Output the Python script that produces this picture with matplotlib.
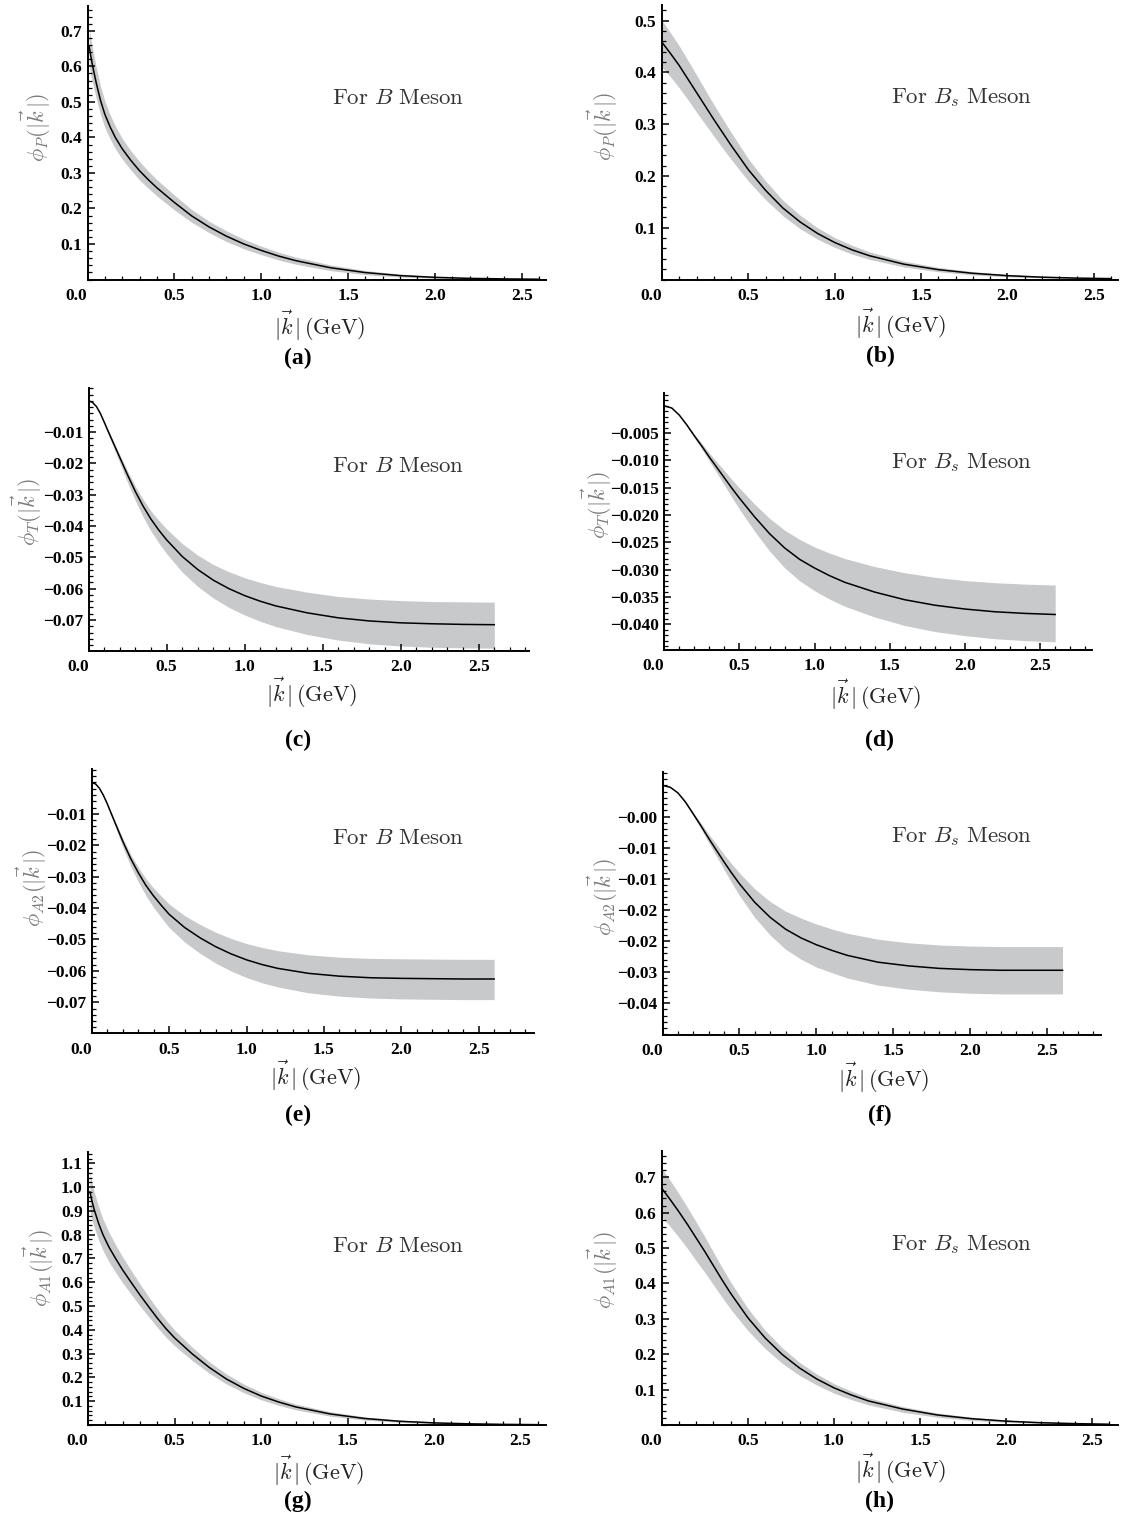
import matplotlib
matplotlib.use("Agg")
import matplotlib.pyplot as plt
from matplotlib.ticker import MultipleLocator

plt.rcParams['mathtext.fontset'] = 'cm'
plt.rcParams['axes.unicode_minus'] = True

# ---- data: |k| (GeV), central curve, band upper / lower ----
# (a) phi_P, B meson
k_a = [0.01, 0.02, 0.03, 0.05, 0.075, 0.1, 0.13, 0.16, 0.2, 0.25, 0.3, 0.35, 0.4, 0.5, 0.6, 0.7,
       0.8, 0.9, 1.0, 1.1, 1.2, 1.4, 1.6, 1.8, 2.0, 2.2, 2.4, 2.6]
a_mid = [0.655, 0.626, 0.600, 0.554, 0.504, 0.465, 0.430, 0.400, 0.368, 0.335, 0.306, 0.281, 0.258,
         0.217, 0.179, 0.148, 0.122, 0.100, 0.082, 0.066, 0.053, 0.033, 0.0195, 0.011, 0.0061,
         0.0032, 0.0017, 0.0008]
a_hi = [0.707, 0.676, 0.648, 0.598, 0.544, 0.502, 0.464, 0.432, 0.397, 0.362, 0.332, 0.305, 0.281,
        0.238, 0.197, 0.164, 0.137, 0.1135, 0.094, 0.077, 0.063, 0.041, 0.0254, 0.0151, 0.0088,
        0.0048, 0.0026, 0.0013]
a_lo = [0.603, 0.576, 0.552, 0.510, 0.464, 0.428, 0.396, 0.368, 0.339, 0.308, 0.280, 0.257, 0.235,
        0.196, 0.161, 0.132, 0.107, 0.0865, 0.070, 0.055, 0.043, 0.025, 0.0137, 0.0069, 0.0034,
        0.0016, 0.0008, 0.0003]

# (b) phi_P, Bs meson
k_b = [0, 0.05, 0.1, 0.15, 0.2, 0.25, 0.3, 0.35, 0.4, 0.5, 0.6, 0.7, 0.8, 0.9, 1.0, 1.1, 1.2, 1.4,
       1.6, 1.8, 2.0, 2.2, 2.4, 2.6]
b_mid = [0.458, 0.436, 0.413, 0.387, 0.361, 0.335, 0.309, 0.284, 0.259, 0.212, 0.172, 0.138, 0.111,
         0.089, 0.0714, 0.0573, 0.046, 0.0296, 0.019, 0.012, 0.0074, 0.0045, 0.0027, 0.0017]
b_hi = [0.500, 0.476, 0.451, 0.423, 0.395, 0.366, 0.338, 0.311, 0.284, 0.233, 0.190, 0.153, 0.124,
        0.100, 0.081, 0.066, 0.0535, 0.0355, 0.0235, 0.0153, 0.0098, 0.0062, 0.0039, 0.0025]
b_lo = [0.410, 0.391, 0.370, 0.347, 0.323, 0.300, 0.277, 0.254, 0.232, 0.190, 0.154, 0.123, 0.098,
        0.078, 0.062, 0.049, 0.039, 0.0242, 0.015, 0.0089, 0.0052, 0.003, 0.0017, 0.001]

# |k| grids for the negative distributions
k_b_neg = [0, 0.025, 0.05, 0.075, 0.1, 0.125, 0.15, 0.2, 0.25, 0.3, 0.35, 0.4, 0.45, 0.5, 0.6, 0.7,
           0.8, 0.9, 1.0, 1.1, 1.2, 1.4, 1.6, 1.8, 2.0, 2.2, 2.4, 2.6]
k_bs_neg = [0, 0.05, 0.1, 0.15, 0.2, 0.25, 0.3, 0.35, 0.4, 0.45, 0.5, 0.6, 0.7, 0.8, 0.9, 1.0, 1.1,
            1.2, 1.4, 1.6, 1.8, 2.0, 2.2, 2.4, 2.6]

# (c) phi_T, B meson
c_mid = [0, -0.0005, -0.0018, -0.0040, -0.0068, -0.0097, -0.0125, -0.0181, -0.0237, -0.0290,
         -0.0337, -0.0378, -0.0413, -0.0444, -0.0497, -0.0539, -0.0573, -0.0600, -0.0622, -0.0640,
         -0.0655, -0.0677, -0.0693, -0.0703, -0.0709, -0.0712, -0.0714, -0.0715]
c_hi = [0, -0.00048, -0.00173, -0.00384, -0.00653, -0.00931, -0.01194, -0.0172, -0.0224, -0.0273,
        -0.0315, -0.0352, -0.0382, -0.0409, -0.0456, -0.0493, -0.0523, -0.0546, -0.0565, -0.0580,
        -0.0593, -0.0611, -0.0625, -0.0633, -0.0638, -0.0641, -0.0642, -0.0643]
c_lo = [0, -0.000525, -0.00191, -0.00428, -0.00734, -0.01052, -0.01363, -0.0198, -0.0261, -0.0319,
        -0.0371, -0.0416, -0.0454, -0.0488, -0.0547, -0.0593, -0.0630, -0.0660, -0.0684, -0.0704,
        -0.0721, -0.0746, -0.0764, -0.0776, -0.0783, -0.0787, -0.0789, -0.0790]

# (d) phi_T, Bs meson
d_mid = [0, -0.0004, -0.0017, -0.0035, -0.0055, -0.0074, -0.0094, -0.0113, -0.0132, -0.0151,
         -0.0169, -0.0203, -0.0234, -0.0260, -0.0281, -0.0297, -0.0311, -0.0323, -0.0341, -0.0355,
         -0.0365, -0.0372, -0.0377, -0.0380, -0.0382]
d_hi = [0, -0.00039, -0.00163, -0.00333, -0.00517, -0.00688, -0.00865, -0.01028, -0.01188,
        -0.01351, -0.01504, -0.01797, -0.02059, -0.02275, -0.02445, -0.02584, -0.02696, -0.02794,
        -0.02943, -0.03056, -0.03139, -0.03199, -0.03238, -0.03264, -0.03281]
d_lo = [0, -0.00041, -0.00177, -0.00368, -0.00583, -0.00792, -0.01015, -0.01232, -0.01452,
        -0.01676, -0.01893, -0.02294, -0.02656, -0.02964, -0.03203, -0.03386, -0.03539, -0.03669,
        -0.03867, -0.04022, -0.04132, -0.04207, -0.04264, -0.04298, -0.04320]

# (e) phi_A2, B meson
e_mid = [0, -0.0005, -0.0019, -0.0041, -0.0068, -0.0098, -0.0128, -0.0187, -0.0241, -0.0287,
         -0.0328, -0.0362, -0.0392, -0.0420, -0.0462, -0.0495, -0.0523, -0.0546, -0.0565, -0.0580,
         -0.0592, -0.0608, -0.0617, -0.0622, -0.0624, -0.0625, -0.0626, -0.0626]
e_hi = [0, -0.00048, -0.00182, -0.00394, -0.00653, -0.00941, -0.01222, -0.01777, -0.02277,
        -0.02698, -0.03067, -0.03367, -0.03626, -0.03872, -0.04241, -0.04524, -0.04770, -0.04969,
        -0.05130, -0.05255, -0.05358, -0.05490, -0.05565, -0.05604, -0.05616, -0.05625, -0.05634,
        -0.05634]
e_lo = [0, -0.000525, -0.00201, -0.00439, -0.00734, -0.01063, -0.01395, -0.02048, -0.02651,
        -0.03157, -0.03608, -0.03982, -0.04312, -0.04620, -0.05082, -0.05445, -0.05753, -0.06006,
        -0.06215, -0.06380, -0.06512, -0.06700, -0.06806, -0.06867, -0.06895, -0.06906, -0.06917,
        -0.06917]

# (f) phi_A2, Bs meson
f_mid = [0, -0.0003, -0.0012, -0.0027, -0.0046, -0.0065, -0.0085, -0.0104, -0.0123, -0.0141,
         -0.0158, -0.0188, -0.0212, -0.0231, -0.0245, -0.0256, -0.0265, -0.0273, -0.0284, -0.0290,
         -0.0294, -0.0296, -0.0297, -0.0297, -0.0297]
f_hi = [0, -0.00029, -0.00115, -0.00257, -0.00432, -0.00605, -0.00782, -0.00946, -0.01107,
        -0.01262, -0.01406, -0.01664, -0.01866, -0.02021, -0.02132, -0.02227, -0.02306, -0.02375,
        -0.02471, -0.02529, -0.02564, -0.02581, -0.02590, -0.02590, -0.02590]
f_lo = [0, -0.00031, -0.00125, -0.00284, -0.00488, -0.00696, -0.00918, -0.01134, -0.01353,
        -0.01565, -0.01770, -0.02124, -0.02406, -0.02633, -0.02793, -0.02918, -0.03008, -0.03093,
        -0.03209, -0.03274, -0.03316, -0.03339, -0.03350, -0.03350, -0.03350]

# (g) phi_A1, B meson
k_g = [0.01, 0.02, 0.035, 0.06, 0.085, 0.12, 0.16, 0.2, 0.25, 0.3, 0.35, 0.4, 0.45, 0.5, 0.6, 0.7,
       0.8, 0.9, 1.0, 1.1, 1.2, 1.4, 1.6, 1.8, 2.0, 2.2, 2.4, 2.6]
g_mid = [0.980, 0.947, 0.905, 0.848, 0.801, 0.748, 0.698, 0.651, 0.598, 0.546, 0.497, 0.449, 0.405,
         0.366, 0.300, 0.242, 0.193, 0.154, 0.122, 0.097, 0.076, 0.0464, 0.0273, 0.0158, 0.0089,
         0.0050, 0.0027, 0.0015]
g_hi = [1.062, 1.026, 0.980, 0.918, 0.867, 0.810, 0.756, 0.705, 0.648, 0.592, 0.539, 0.488, 0.441,
        0.399, 0.328, 0.266, 0.214, 0.172, 0.138, 0.111, 0.088, 0.056, 0.034, 0.0205, 0.0122,
        0.0072, 0.0040, 0.0023]
g_lo = [0.900, 0.869, 0.830, 0.778, 0.735, 0.686, 0.640, 0.597, 0.548, 0.500, 0.455, 0.410, 0.369,
        0.333, 0.272, 0.218, 0.172, 0.136, 0.106, 0.083, 0.064, 0.037, 0.0205, 0.011, 0.0056,
        0.0028, 0.0014, 0.0007]

# (h) phi_A1, Bs meson
k_h = [0, 0.05, 0.1, 0.15, 0.2, 0.25, 0.3, 0.35, 0.4, 0.5, 0.6, 0.7, 0.8, 0.9, 1.0, 1.1, 1.2, 1.4,
       1.6, 1.8, 2.0, 2.2, 2.4, 2.6]
h_mid = [0.669, 0.636, 0.602, 0.566, 0.528, 0.490, 0.450, 0.410, 0.372, 0.303, 0.246, 0.199, 0.161,
         0.130, 0.105, 0.085, 0.068, 0.045, 0.0284, 0.0178, 0.0109, 0.0065, 0.0039, 0.0022]
h_hi = [0.725, 0.690, 0.653, 0.614, 0.573, 0.532, 0.488, 0.445, 0.404, 0.329, 0.268, 0.218, 0.177,
        0.144, 0.117, 0.096, 0.077, 0.052, 0.034, 0.022, 0.0141, 0.0088, 0.0055, 0.0033]
h_lo = [0.588, 0.560, 0.530, 0.498, 0.464, 0.431, 0.396, 0.361, 0.327, 0.267, 0.216, 0.174, 0.140,
        0.113, 0.090, 0.072, 0.057, 0.036, 0.022, 0.013, 0.0076, 0.0043, 0.0024, 0.0013]

# y tick positions / labels per panel
ticks_pos = [0.1, 0.2, 0.3, 0.4, 0.5, 0.6, 0.7]
ticks_bs_p = [0.1, 0.2, 0.3, 0.4, 0.5]
ticks_neg = [-0.01, -0.02, -0.03, -0.04, -0.05, -0.06, -0.07]
ticks_d = [-0.005, -0.010, -0.015, -0.020, -0.025, -0.030, -0.035, -0.040]
ticks_f = [-0.005, -0.010, -0.015, -0.020, -0.025, -0.030, -0.035]
labels_f = ["\u22120.00", "\u22120.01", "\u22120.01", "\u22120.02", "\u22120.02", "\u22120.03", "\u22120.04"]
ticks_g = [0.1, 0.2, 0.3, 0.4, 0.5, 0.6, 0.7, 0.8, 0.9, 1.0, 1.1]
x_ticks = [0.0, 0.5, 1.0, 1.5, 2.0, 2.5]

KLBL = r"|\vec{k}\,|"

# layout: pixel box (left, right, bottom, top), xlim, ylim, minor y step, text anchors
panels = [
    dict(k=k_a, mid=a_mid, hi=a_hi, lo=a_lo, box=(87.5, 546, 279.5, 6), xmax=2.64, ylim=(0, 0.77),
         yt=ticks_pos, yfmt="%.1f", ymin=0.02, sub="P", mes="B", tag="a",
         yl=(36, 128), xl=(320, 326), tl=(298, 358), ft=(398, 98)),
    dict(k=k_b, mid=b_mid, hi=b_hi, lo=b_lo, box=(662, 1118, 279.5, 5), xmax=2.64, ylim=(0, 0.53),
         yt=ticks_bs_p, yfmt="%.1f", ymin=0.02, sub="P", mes="B_s", tag="b",
         yl=(603, 127), xl=(901, 324), tl=(880, 356), ft=(962, 98)),
    dict(k=k_b_neg, mid=c_mid, hi=c_hi, lo=c_lo, box=(88.6, 528.6, 650.7, 388.3), xmax=2.82,
         ylim=(-0.0798, 0.004), yt=ticks_neg, yfmt="%.2f", ymin=0.002, sub="T", mes="B", tag="c",
         yl=(27, 512), xl=(312, 693), tl=(298, 740), ft=(398, 466)),
    dict(k=k_bs_neg, mid=d_mid, hi=d_hi, lo=d_lo, box=(664.3, 1092, 650, 393.3), xmax=2.845,
         ylim=(-0.0447, 0.0023), yt=ticks_d, yfmt="%.3f", ymin=0.001, sub="T", mes="B_s", tag="d",
         yl=(597, 505), xl=(876, 695), tl=(880, 740), ft=(962, 463)),
    dict(k=k_b_neg, mid=e_mid, hi=e_hi, lo=e_lo, box=(91.8, 533.9, 1033.3, 769.3), xmax=2.857,
         ylim=(-0.0799, 0.0042), yt=ticks_neg, yfmt="%.2f", ymin=0.002, sub="A2", mes="B", tag="e",
         yl=(32, 888), xl=(316, 1076), tl=(298, 1115), ft=(398, 838)),
    dict(k=k_bs_neg, mid=f_mid, hi=f_hi, lo=f_lo, box=(662.5, 1101, 1035, 771.7), xmax=2.85,
         ylim=(-0.0401, 0.0022), yt=ticks_f, ylabels=labels_f, ymin=0.001, sub="A2", mes="B_s",
         tag="f", yl=(603, 897), xl=(884, 1078), tl=(880, 1115), ft=(962, 837)),
    dict(k=k_g, mid=g_mid, hi=g_hi, lo=g_lo, box=(88.2, 546.4, 1425, 1151.7), xmax=2.65,
         ylim=(0, 1.149), yt=ticks_g, yfmt="%.1f", ymin=0.02, sub="A1", mes="B", tag="g",
         yl=(39, 1268), xl=(319, 1471), tl=(298, 1501), ft=(398, 1246)),
    dict(k=k_h, mid=h_mid, hi=h_hi, lo=h_lo, box=(661.8, 1118, 1425, 1150.7), xmax=2.65,
         ylim=(0, 0.775), yt=ticks_pos, yfmt="%.1f", ymin=0.02, sub="A1", mes="B_s", tag="h",
         yl=(603, 1270), xl=(901, 1469), tl=(880, 1501), ft=(962, 1245)),
]

W, H = 1122, 1520
fig = plt.figure(figsize=(W / 100, H / 100), dpi=100)
fig.patch.set_facecolor("white")

tick_font = dict(family="Liberation Serif", weight="bold", size=12.5)


def fx(x):
    return x / W


def fy(y):
    return 1 - y / H


for p in panels:
    left, right, bottom, top = p["box"]
    ax = fig.add_axes([fx(left), fy(bottom), (right - left) / W, (bottom - top) / H])
    ax.fill_between(p["k"], p["lo"], p["hi"], color="#c8c9cb", lw=0)
    ax.plot(p["k"], p["mid"], color="black", lw=1.1)

    ax.set_xlim(0, p["xmax"])
    ax.set_ylim(*p["ylim"])
    for s in ("top", "right"):
        ax.spines[s].set_visible(False)
    for s in ("left", "bottom"):
        ax.spines[s].set_linewidth(1.4)

    ax.set_xticks(x_ticks)
    ax.set_xticklabels(["%.1f" % v for v in x_ticks], **tick_font)
    ax.xaxis.set_minor_locator(MultipleLocator(0.1))
    ax.set_yticks(p["yt"])
    if "ylabels" in p:
        ax.set_yticklabels(p["ylabels"], **tick_font)
    else:
        ax.set_yticklabels([(p["yfmt"] % v).replace("-", "\u2212") for v in p["yt"]], **tick_font)
    ax.yaxis.set_minor_locator(MultipleLocator(p["ymin"]))
    ax.tick_params(which="major", direction="in", length=5, width=1.1, pad=4, colors="black")
    ax.tick_params(which="minor", direction="in", length=2.8, width=0.9)
    ax.tick_params(axis="x", pad=6)
    ax.get_xticklabels()[0].set_horizontalalignment("right")

    fig.text(fx(p["yl"][0]), fy(p["yl"][1]),
             r"$\phi_{%s}(%s)$" % (p["sub"], KLBL),
             rotation=90, ha="center", va="center", fontsize=16, color="#7a7a7a")
    fig.text(fx(p["xl"][0]), fy(p["xl"][1]), r"$%s\,(\mathrm{GeV})$" % KLBL,
             ha="center", va="center", fontsize=16, color="#222222")
    fig.text(fx(p["tl"][0]), fy(p["tl"][1]), "(%s)" % p["tag"],
             ha="center", va="center", fontsize=17, fontweight="bold",
             family="Liberation Serif", color="black")
    fig.text(fx(p["ft"][0]), fy(p["ft"][1]),
             r"$\mathrm{For}\ %s\ \mathrm{Meson}$" % p["mes"],
             ha="center", va="center", fontsize=16.5, color="#333333")

fig.savefig("out.png", dpi=100)
